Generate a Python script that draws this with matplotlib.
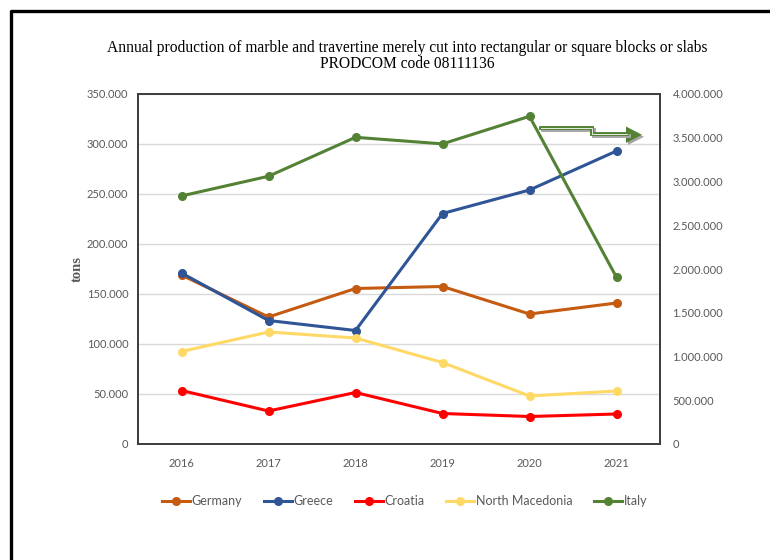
"""Marble and travertine production, PRODCOM 08111136
"""
import matplotlib
matplotlib.use('Agg')
import matplotlib.pyplot as plt
from matplotlib.ticker import FuncFormatter, MultipleLocator
from matplotlib.lines import Line2D

# Data (tons)
years = ['2016', '2017', '2018', '2019', '2020', '2021']
germany = [169000, 127000, 155500, 157500, 130000, 141000]
greece = [171000, 123500, 113500, 230500, 254000, 293000]
croatia = [53500, 33000, 51500, 30500, 27500, 30000]
north_macedonia = [92500, 112000, 106000, 81500, 48000, 53000]
italy = [2835000, 3060000, 3505000, 3430000, 3745000, 1905000]  # right axis

colors = {
    'Germany': '#C55A11',
    'Greece': '#2F5597',
    'Croatia': '#FF0000',
    'North Macedonia': '#FFD966',
    'Italy': '#548235',
}

tick_font = 'Lato'
tick_color = '#595959'


def dot_thousands(v, pos):
    return '{:,.0f}'.format(v).replace(',', '.')


fig = plt.figure(figsize=(7.7, 5.6), dpi=100)
ax = fig.add_axes([138 / 770, 1 - 444 / 560, 522 / 770, 350 / 560])
ax2 = ax.twinx()

x = list(range(len(years)))
lw = 2.2
ms = 5.5
series = [('Germany', germany), ('Greece', greece), ('Croatia', croatia),
          ('North Macedonia', north_macedonia)]
handles = []
for name, vals in series:
    h, = ax.plot(x, vals, color=colors[name], lw=lw, marker='o', ms=ms,
                 label=name, zorder=3)
    handles.append(h)
h, = ax2.plot(x, italy, color=colors['Italy'], lw=lw, marker='o', ms=ms,
              label='Italy', zorder=3)
handles.append(h)

ax.set_xlim(-0.5, len(years) - 0.5)
ax.set_ylim(0, 350000)
ax2.set_ylim(0, 4000000)
ax.yaxis.set_major_locator(MultipleLocator(50000))
ax2.yaxis.set_major_locator(MultipleLocator(500000))
ax.yaxis.set_major_formatter(FuncFormatter(dot_thousands))
ax2.yaxis.set_major_formatter(FuncFormatter(dot_thousands))
ax.set_xticks(x)
ax.set_xticklabels(years)

ax.grid(axis='y', color='#d9d9d9', lw=1.0, zorder=0)
ax.set_axisbelow(True)
for a in (ax, ax2):
    a.tick_params(length=0, labelsize=8, labelcolor=tick_color)
    for lab in a.get_xticklabels() + a.get_yticklabels():
        lab.set_fontfamily(tick_font)
    for s in a.spines.values():
        s.set_color('#404040')
        s.set_linewidth(1.4)
ax.tick_params(axis='y', pad=7)
ax.tick_params(axis='x', pad=10)
ax2.tick_params(axis='y', pad=9)

ax.set_ylabel('tons', family='Liberation Serif', fontsize=10.5,
              fontweight='bold', color='#595959', labelpad=2)

fig.text(407 / 770, 1 - 47.5 / 560,
         'Annual production of marble and travertine merely cut into rectangular or square blocks or slabs',
         ha='center', va='center', family='Liberation Serif', fontsize=11.2)
fig.text(407 / 770, 1 - 63.5 / 560, 'PRODCOM code 08111136',
         ha='center', va='center', family='Liberation Serif', fontsize=11.2)

# stepped arrow pointing to the right axis (Italy)
px = [540.7, 591.7, 591.7, 627.0]
py = [128.3, 128.3, 134.3, 134.3]
fx = [v / 770 for v in px]
fy = [1 - v / 560 for v in py]
sh = 2.0
fig.add_artist(Line2D([v + sh / 770 for v in fx], [v - sh / 560 for v in fy],
                      color='#a6a6a6', lw=2.8, solid_joinstyle='miter'))
fig.add_artist(Line2D(fx, fy, color=colors['Italy'], lw=2.8,
                      solid_joinstyle='miter'))
fig.add_artist(Line2D(fx, fy, color='white', lw=0.6, solid_joinstyle='miter'))
head_x = [626 / 770, 642 / 770, 626 / 770, 626 / 770]
head_y = [1 - 126.5 / 560, 1 - 134.8 / 560, 1 - 143 / 560, 1 - 126.5 / 560]
fig.add_artist(plt.Polygon(list(zip([v + sh / 770 for v in head_x],
                                    [v - sh / 560 for v in head_y])),
                           closed=True, color='#a6a6a6', lw=0))
fig.add_artist(plt.Polygon(list(zip(head_x, head_y)), closed=True,
                           color=colors['Italy'], lw=0))

leg = fig.legend(handles=handles, loc='center', ncol=5,
                 bbox_to_anchor=(404.5 / 770, 1 - 501 / 560), frameon=False,
                 prop={'family': tick_font, 'size': 9}, handlelength=2.25,
                 handletextpad=0.15, columnspacing=1.7, labelcolor=tick_color)

# page border (left and top only, the rest is cropped)
fig.add_artist(Line2D([10.5 / 770, 10.5 / 770, 1.0], [0.0, 1 - 10.5 / 560, 1 - 10.5 / 560],
                      color='black', lw=2.4))

fig.savefig('out.png', dpi=100)
